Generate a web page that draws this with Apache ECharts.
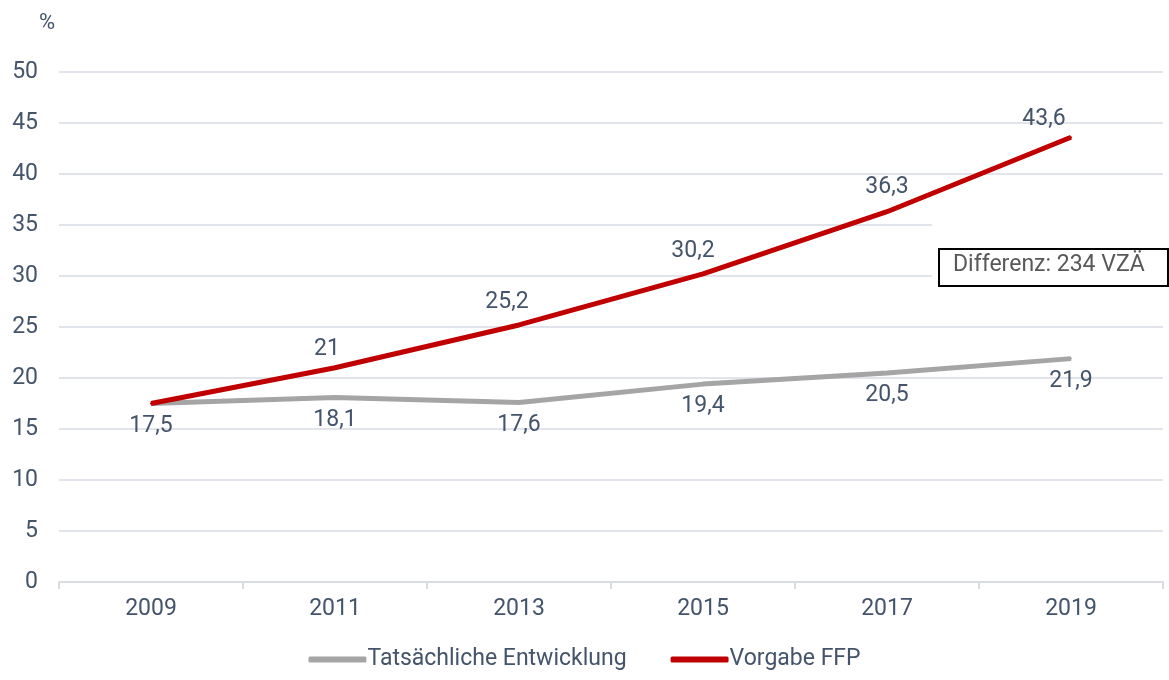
<!DOCTYPE html>
<html>
<head>
<meta charset="utf-8">
<script src="https://cdn.jsdelivr.net/npm/echarts@6/dist/echarts.min.js"></script>
<style>
  html, body { margin: 0; padding: 0; background: #fff; }
  #chart { width: 1169px; height: 680px; }
</style>
</head>
<body>
<div id="chart"></div>
<script>
const years = ['2009', '2011', '2013', '2015', '2017', '2019'];
const actual = [17.5, 18.1, 17.6, 19.4, 20.5, 21.9];
const target = [17.5, 21, 25.2, 30.2, 36.3, 43.6];
const seriesNames = ['Tatsächliche Entwicklung', 'Vorgabe FFP'];

const textColor = '#44546a';
const font = 'Roboto, "Open Sans", sans-serif';
const fs = 23;
const fmt = p => String(p.value).replace('.', ',');

// the red labels were placed by hand in the original, first one hidden
let redLabelShift = [[0, 0], [-8, 8], [-12, 4], [-10, 4], [0, 2], [-27, 8]];
let targetData = target.map((v, i) => i === 0 ? {value: v, label: {show: false}} : v);

let myChart = echarts.init(document.getElementById('chart'));
let option = {
    backgroundColor: '#fff',
    animation: false,
    textStyle: { fontFamily: font },
    grid: { left: 59, right: 6, top: 72, bottom: 98 },
    legend: {
        bottom: 4,
        left: 'center',
        itemWidth: 58,
        itemHeight: 6,
        itemGap: 44,
        icon: 'roundRect',
        textStyle: { color: textColor, fontSize: fs, fontFamily: font, padding: [0, 0, 0, -4] },
        data: seriesNames
    },
    xAxis: {
        type: 'category',
        data: years,
        boundaryGap: true,
        axisLine: { lineStyle: { color: '#d9dde3', width: 2 } },
        axisTick: { show: true, length: 7, lineStyle: { color: '#d9dde3', width: 2 } },
        axisLabel: { color: textColor, fontSize: fs, fontFamily: font, margin: 16 }
    },
    yAxis: {
        type: 'value',
        min: 0,
        max: 50,
        interval: 5,
        name: '%',
        nameLocation: 'end',
        nameGap: 38,
        nameTextStyle: { color: textColor, fontSize: fs - 1, fontFamily: font, align: 'right', padding: [0, 4, 0, 0] },
        axisLine: { show: false },
        axisTick: { show: false },
        axisLabel: { color: textColor, fontSize: fs, fontFamily: font, margin: 21 },
        splitLine: { lineStyle: { color: '#e1e4ea', width: 2 } }
    },
    series: [
        {
            name: seriesNames[0],
            type: 'line',
            data: actual,
            symbol: 'circle',
            symbolSize: 2,
            showSymbol: true,
            itemStyle: { color: '#a5a5a5' },
            lineStyle: { width: 5, color: '#a5a5a5' },
            label: { show: true, position: 'bottom', distance: 10, color: textColor, fontSize: fs, fontFamily: font, formatter: fmt },
            labelLayout: { hideOverlap: false },
            z: 2
        },
        {
            name: seriesNames[1],
            type: 'line',
            data: targetData,
            symbol: 'circle',
            symbolSize: 2,
            showSymbol: true,
            itemStyle: { color: '#c00000' },
            lineStyle: { width: 5, color: '#c00000' },
            label: { show: true, position: 'top', distance: 14, color: textColor, fontSize: fs, fontFamily: font, formatter: fmt },
            labelLayout: function (params) {
                let s = redLabelShift[params.dataIndex] || [0, 0];
                return { dx: s[0], dy: s[1], hideOverlap: false };
            },
            z: 3
        }
    ],
    graphic: [
        {
            type: 'rect',
            left: 932, top: 218,
            shape: { width: 237, height: 74 },
            style: { fill: '#fff' },
            z: 5
        },
        {
            type: 'rect',
            left: 938, top: 248,
            shape: { width: 229, height: 37 },
            style: { fill: '#fff', stroke: '#000', lineWidth: 2 },
            z: 6
        },
        {
            type: 'text',
            left: 953, top: 254,
            style: { text: 'Differenz: 234 VZÄ', fill: '#595959', fontSize: fs, fontFamily: font },
            z: 7
        }
    ]
};
myChart.setOption(option);
</script>
</body>
</html>
